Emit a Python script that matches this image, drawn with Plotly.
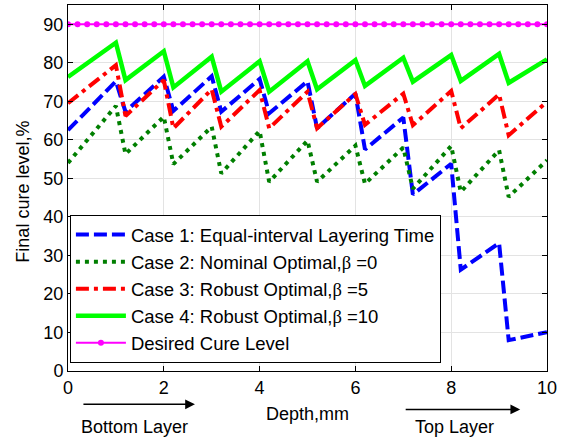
import plotly.graph_objects as go

depth = [0, 1, 1.2, 2, 2.2, 3, 3.2, 4, 4.2, 5, 5.2, 6, 6.2, 7, 7.2, 8, 8.2, 9, 9.2, 10]

case1_equal = [62.5, 75.2, 67.3, 76.4, 67.5, 76.5, 67.3, 75.8, 66.9, 75.2,
               63.0, 72.0, 57.5, 65.8, 45.8, 53.8, 26.3, 33.2, 8.0, 10.1]
case2_nominal = [54.0, 68.8, 56.3, 66.0, 53.7, 63.4, 51.3, 62.3, 49.1, 59.8,
                 49.1, 58.5, 48.6, 58.0, 47.3, 58.4, 46.5, 57.3, 45.2, 54.7]
case3_robust5 = [69.5, 79.4, 66.2, 75.5, 63.0, 73.1, 63.4, 72.9, 63.0, 72.5,
                 63.0, 71.9, 63.9, 72.0, 63.8, 72.7, 63.0, 71.8, 61.2, 69.9]
case4_robust10 = [76.3, 85.2, 75.5, 83.0, 73.6, 81.6, 72.5, 80.4, 72.5, 80.4,
                  73.1, 80.7, 74.0, 81.3, 75.1, 82.0, 75.3, 82.3, 74.8, 80.9]

desired_depth = [0.0, 0.2, 0.4, 0.6, 0.8, 1.0, 1.2, 1.4, 1.6, 1.8, 2.0, 2.2, 2.4,
                 2.6, 2.8, 3.0, 3.2, 3.4, 3.6, 3.8, 4.0, 4.2, 4.4, 4.6, 4.8, 5.0,
                 5.2, 5.4, 5.6, 5.8, 6.0, 6.2, 6.4, 6.6, 6.8, 7.0, 7.2, 7.4, 7.6,
                 7.8, 8.0, 8.2, 8.4, 8.6, 8.8, 9.0, 9.2, 9.4, 9.6, 9.8, 10.0]
desired_level = [90, 90, 90, 90, 90, 90, 90, 90, 90, 90, 90, 90, 90, 90, 90, 90, 90,
                 90, 90, 90, 90, 90, 90, 90, 90, 90, 90, 90, 90, 90, 90, 90, 90, 90,
                 90, 90, 90, 90, 90, 90, 90, 90, 90, 90, 90, 90, 90, 90, 90, 90, 90]

x_ticks = [0, 2, 4, 6, 8, 10]
y_ticks = [0, 10, 20, 30, 40, 50, 60, 70, 80, 90]

BETA = '<span style="font-family:Liberation Serif">β</span>'
names = [
    "Case 1: Equal-interval Layering Time",
    "Case 2: Nominal Optimal," + BETA + " =0",
    "Case 3: Robust Optimal," + BETA + " =5",
    "Case 4: Robust Optimal," + BETA + " =10",
    "Desired Cure Level",
]

FONT = "Liberation Sans, Arial, sans-serif"

fig = go.Figure()
fig.add_trace(go.Scatter(x=depth, y=case1_equal, mode="lines", name=names[0],
                         line=dict(color="#0000FF", width=4, dash="13px,5px")))
fig.add_trace(go.Scatter(x=depth, y=case2_nominal, mode="lines", name=names[1],
                         line=dict(color="#007F00", width=4, dash="4px,5px")))
fig.add_trace(go.Scatter(x=depth, y=case3_robust5, mode="lines", name=names[2],
                         line=dict(color="#FF0000", width=4, dash="13px,5px,4px,5px")))
fig.add_trace(go.Scatter(x=depth, y=case4_robust10, mode="lines", name=names[3],
                         line=dict(color="#00FF00", width=4.5)))
fig.add_trace(go.Scatter(x=desired_depth, y=desired_level, mode="lines+markers", name=names[4],
                         line=dict(color="#FF00FF", width=2),
                         marker=dict(color="#FF00FF", size=6, symbol="circle")))

axis_common = dict(
    showline=True, linecolor="black", linewidth=1, mirror="allticks",
    ticks="inside", ticklen=5, tickcolor="black", tickwidth=1,
    showgrid=True, gridcolor="#e3e3e3", gridwidth=1, zeroline=False,
    tickfont=dict(family=FONT, size=18, color="black"),
)

fig.update_xaxes(range=[0, 10], tickvals=x_ticks, **axis_common)
fig.update_yaxes(range=[0, 95], tickvals=y_ticks, **axis_common)

ann_font = dict(family=FONT, size=18, color="black")
fig.update_layout(
    width=566, height=439,
    margin=dict(l=68, r=19, t=5, b=68, pad=0),
    plot_bgcolor="white", paper_bgcolor="white",
    font=dict(family=FONT, size=18, color="black"),
    showlegend=True,
    legend=dict(x=0.004, y=0.426, xanchor="left", yanchor="top",
                bgcolor="white", bordercolor="black", borderwidth=1,
                font=dict(family=FONT, size=18.5, color="black"),
                tracegroupgap=0, itemwidth=50),
    annotations=[
        dict(text="Final cure level,%", xref="paper", yref="paper", x=-0.094, y=0.49,
             xanchor="center", yanchor="middle",
             textangle=-90, showarrow=False, font=ann_font),
        dict(text="Depth,mm", xref="paper", yref="paper", x=0.499, y=-0.118,
             xanchor="center", yanchor="middle", showarrow=False, font=ann_font),
        dict(text="Bottom Layer", xref="x", yref="paper", x=1.38, y=-0.154,
             xanchor="center", yanchor="middle", showarrow=False, font=ann_font),
        dict(text="Top Layer", xref="x", yref="paper", x=8.06, y=-0.185,
             xanchor="center", yanchor="bottom", showarrow=False, font=ann_font),
        dict(text="", xref="x", yref="paper", x=2.65, y=-0.091, ax=-113, ay=0,
             showarrow=True, arrowhead=2, arrowsize=1.3, arrowwidth=1.5, arrowcolor="black"),
        dict(text="", xref="x", yref="paper", x=9.44, y=-0.105, ax=-116, ay=0,
             showarrow=True, arrowhead=2, arrowsize=1.3, arrowwidth=1.5, arrowcolor="black"),
    ],
)

fig.write_html("out.html", config={"displayModeBar": False},
               post_script="document.body.style.margin='0';document.body.style.padding='0';")
